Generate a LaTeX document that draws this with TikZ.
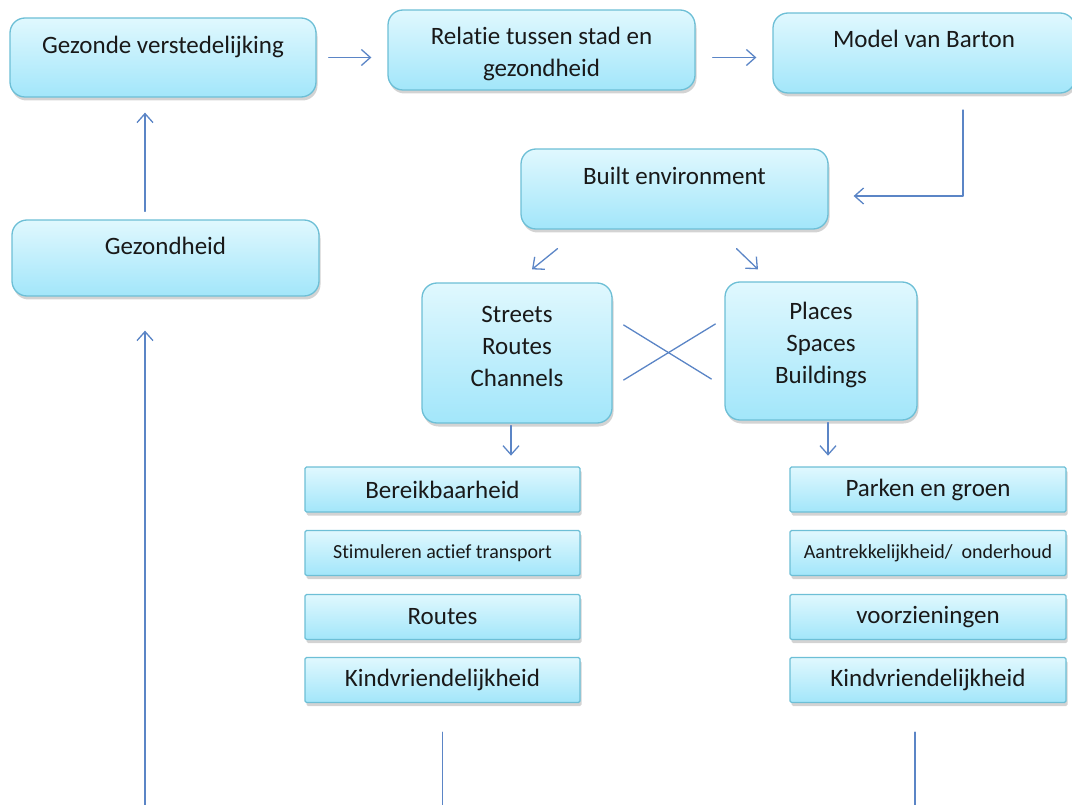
\documentclass[tikz,border=0pt]{standalone}
\usepackage{fontspec}
\setmainfont{Carlito}[Ligatures=NoCommon]
\usetikzlibrary{arrows.meta,shadows}

\definecolor{boxtop}{HTML}{E0F8FE}
\definecolor{boxbot}{HTML}{A2E6FA}
\definecolor{boxline}{HTML}{6DBFD6}
\definecolor{arrowblue}{HTML}{5B85C6}
\newcommand{\bigfont}{\fontsize{25}{32}\selectfont}
\newcommand{\leafsmall}{\fontsize{20}{24}\selectfont}

\begin{document}
\begin{tikzpicture}[line cap=round,line join=round,>={Straight Barb[length=9pt,width=16pt]},x=1pt,y=-1pt,
    bigbox/.style={rectangle,rounded corners=15pt,draw=boxline,line width=1.3pt,top color=boxtop,bottom color=boxbot,
      drop shadow={shadow xshift=1.5pt,shadow yshift=-3.5pt,opacity=0.35}},
    leafbox/.style={rectangle,rounded corners=1.5pt,draw=boxline,line width=1.3pt,top color=boxtop,bottom color=boxbot,
      drop shadow={shadow xshift=1.5pt,shadow yshift=-3.5pt,opacity=0.35},
      minimum width=275pt,minimum height=45pt,inner sep=0pt,font=\bigfont,text=black!90},
    txt/.style={align=center,font=\bigfont,text=black!90,inner sep=0pt},
    flow/.style={->,draw=arrowblue,line width=1.3pt},
    plain/.style={draw=arrowblue,line width=1.3pt}]
      \clip(0,0) rectangle (1072,805);

      % top row
      \node[bigbox,minimum width=306pt,minimum height=79pt] (gv) at (163,57.5) {};
      \node[txt] (gvt) at ([yshift=-30pt]gv.north) {Gezonde verstedelijking};
      \node[bigbox,minimum width=307pt,minimum height=80pt] (rel) at (541.5,50) {};
      \node[txt] (relt) at ([yshift=-45pt]rel.north) {Relatie tussen stad en\\gezondheid};
      \node[bigbox,minimum width=302pt,minimum height=80pt] (model) at (924,53) {};
      \node[txt] (modelt) at ([yshift=-27pt]model.north) {Model van Barton};

      \node[bigbox,minimum width=307pt,minimum height=80pt] (be) at (674.5,189) {};
      \node[txt] (bet) at ([yshift=-28pt]be.north) {Built environment};
      \node[bigbox,minimum width=307pt,minimum height=76pt] (gz) at (165.5,258) {};
      \node[txt] (gzt) at ([yshift=-27pt]gz.north) {Gezondheid};

      % the two middle boxes
      \node[bigbox,minimum width=190pt,minimum height=140pt] (st) at (517,353) {};
      \node[txt] (stt) at ([yshift=7pt]st.center) {Streets\\Routes\\Channels};
      \node[bigbox,minimum width=192pt,minimum height=138pt] (pl) at (821,351) {};
      \node[txt] (plt) at ([yshift=6pt]pl.center) {Places\\Spaces\\Buildings};

      % lists
      \foreach \n/\y/\t in {1/489.5/Bereikbaarheid,2/553/{\leafsmall Stimuleren actief transport},3/617/Routes,4/680/Kindvriendelijkheid}{
        \node[leafbox] (l\n) at (442.5,\y) {\t};
      }
      \foreach \n/\y/\t in {1/489.5/Parken en groen,2/553/{\leafsmall Aantrekkelijkheid/\ \ onderhoud},3/617/voorzieningen,4/680/Kindvriendelijkheid}{
        \node[leafbox,minimum width=276pt] (r\n) at (928,\y) {\t};
      }

      % arrows
      \draw[flow] ([xshift=12pt]gv.east) -- ([xshift=-16pt]gv.east -| rel.west);
      \draw[flow] ([xshift=17pt]rel.east |- gv.east) -- ([xshift=-16pt]model.west |- gv.east);
      \coordinate (mb) at (963,110);
      \draw[flow] (mb) |- ([xshift=25pt,yshift=-7pt]be.east);
      \draw[flow] ([shift={(-117pt,-19pt)}]be.south) -- ([shift={(15pt,13pt)}]st.north);
      \draw[flow] ([shift={(62pt,-19pt)}]be.south) -- ([shift={(-63pt,12pt)}]pl.north);
      \draw[plain] ([shift={(11pt,28pt)}]st.east) -- ([shift={(-13pt,-28pt)}]pl.west);
      \draw[plain] ([shift={(11pt,-27pt)}]st.east) -- ([shift={(-9pt,27pt)}]pl.west);
      \draw[flow] ([shift={(-6pt,-2pt)}]st.south) -- ++(0,30);
      \draw[flow] ([shift={(7pt,-2pt)}]pl.south) -- ++(0,33);
      \draw[flow] ([shift={(-20.5pt,8pt)}]gz.north) -- ([shift={(-18pt,-15pt)}]gv.south);
      \coordinate (bot) at (145,810);
      \draw[flow] (bot) -- ([shift={(-20.5pt,-34pt)}]gz.south);
      \draw[plain] ([yshift=-29pt]l4.south) -- ++(0,80);
      \draw[plain] ([shift={(-13pt,-29pt)}]r4.south) -- ++(0,80);
\end{tikzpicture}
\end{document}
